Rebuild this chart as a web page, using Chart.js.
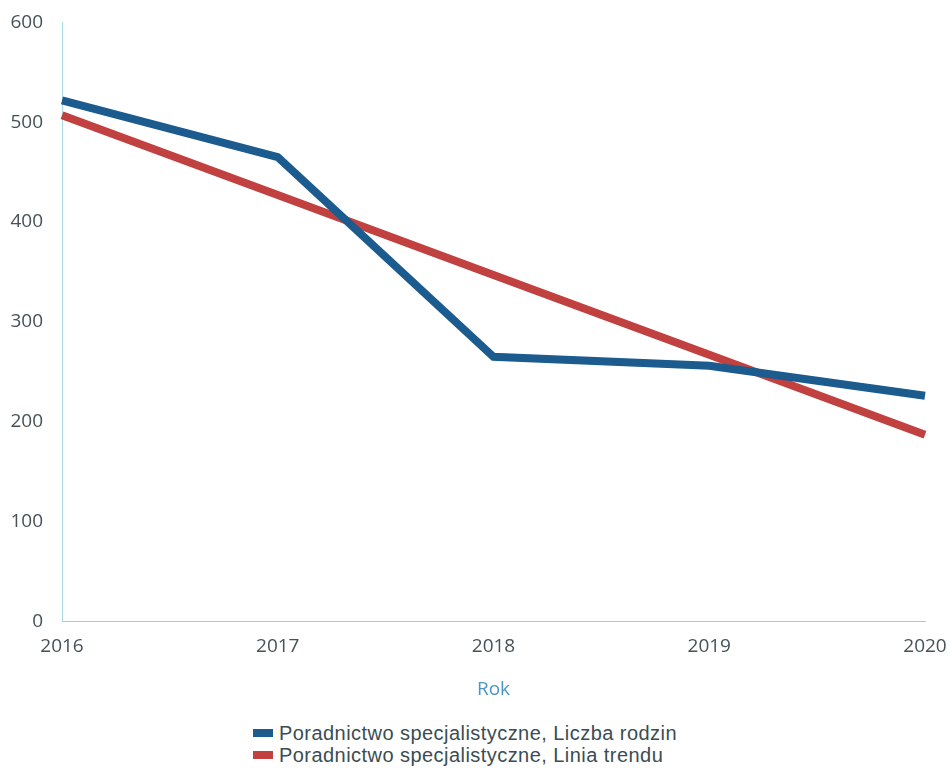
<!DOCTYPE html>
<html lang="pl">
<head>
<meta charset="utf-8">
<title>Poradnictwo specjalistyczne</title>
<script src="https://cdn.jsdelivr.net/npm/chart.js@4"></script>
<style>
    html, body { margin: 0; padding: 0; background: #fff; }
    #wrap { width: 950px; height: 712px; position: relative; }
    #legend {
        display: flex; flex-direction: column; align-items: flex-start;
        margin-left: 253px; margin-top: 10px;
        font-family: "Liberation Sans", Arial, sans-serif; font-size: 20px; letter-spacing: 0.45px; color: #3b4d52;
    }
    #legend div { display: flex; align-items: center; height: 22px; }
    #legend span.box { display: inline-block; width: 20px; height: 8px; margin-right: 6px; }
</style>
</head>
<body>
<div id="wrap"><canvas id="chart"></canvas></div>
<div id="legend"></div>
<script>
// Dane
const years = ['2016', '2017', '2018', '2019', '2020'];
const liczbaRodzin = [522, 465, 265, 256, 226];
const liniaTrendu = [507, 427, 347, 267, 187];
const seriesNames = ['Poradnictwo specjalistyczne, Liczba rodzin', 'Poradnictwo specjalistyczne, Linia trendu'];
const colors = ['#1c5b8d', '#c0413f'];

const tickFont = { family: '"Open Sans", sans-serif', size: 19 };

new Chart(document.getElementById('chart'), {
    type: 'line',
    data: {
        labels: years,
        datasets: [{
            label: seriesNames[0],
            data: liczbaRodzin,
            borderColor: colors[0],
            backgroundColor: colors[0],
            borderWidth: 8,
            pointRadius: 0,
            borderJoinStyle: 'miter',
            tension: 0
        }, {
            label: seriesNames[1],
            data: liniaTrendu,
            borderColor: colors[1],
            backgroundColor: colors[1],
            borderWidth: 8,
            pointRadius: 0,
            tension: 0
        }]
    },
    options: {
        responsive: true,
        maintainAspectRatio: false,
        animation: false,
        layout: { padding: { top: 22, right: 0, bottom: 11, left: 0 } },
        plugins: {
            legend: { display: false },
            tooltip: { enabled: false }
        },
        scales: {
            x: {
                grid: { display: false },
                border: { display: true, color: '#a9c9de', width: 1 },
                ticks: { color: '#465257', font: tickFont, padding: 6, maxRotation: 0 },
                title: {
                    display: true,
                    text: 'Rok',
                    color: '#4f95c4',
                    font: tickFont,
                    padding: { top: 14, bottom: 0 }
                },
                afterFit: function(scale) { scale.paddingRight = 25; }
            },
            y: {
                min: 0,
                max: 600,
                grid: { display: false },
                border: { display: true, color: '#a8dbe6', width: 1 },
                ticks: { color: '#465257', font: tickFont, stepSize: 100, padding: 11 },
                afterFit: function(scale) { scale.width = 62; }
            }
        }
    }
});

// Legenda w dwóch wierszach
const legend = document.getElementById('legend');
seriesNames.forEach(function(name, i) {
    const row = document.createElement('div');
    row.innerHTML = '<span class="box" style="background:' + colors[i] + '"></span>' + name;
    legend.appendChild(row);
});
</script>
</body>
</html>
